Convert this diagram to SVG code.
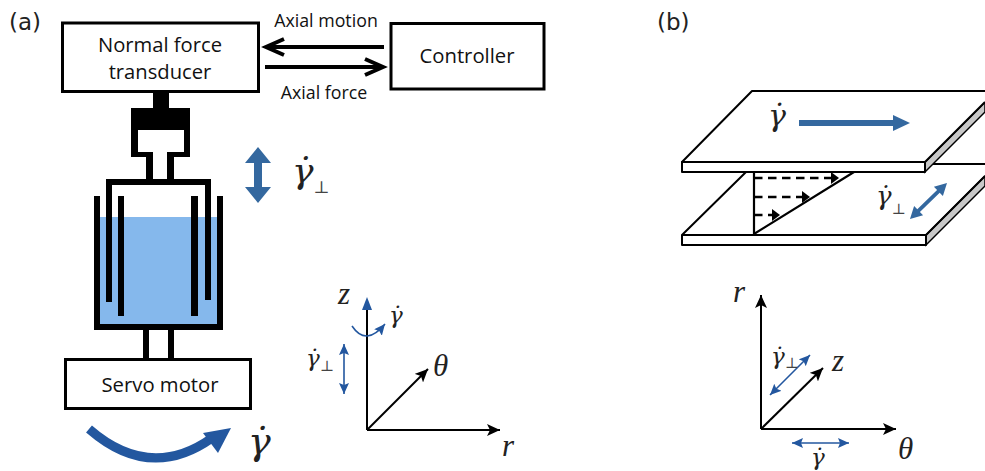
<svg xmlns="http://www.w3.org/2000/svg" width="985" height="471" viewBox="0 0 985 471">
<style>
.lb{font-family:"DejaVu Sans",sans-serif;font-size:23px;fill:#222}
.t{font-family:"Open Sans","Noto Sans",sans-serif;fill:#111;text-anchor:middle}
.m{font-family:"Liberation Serif","DejaVu Serif",serif;font-style:italic;fill:#222}
.g{font-family:"DejaVu Serif",serif;font-style:italic;fill:#222}
.u{font-style:normal;fill:#444}
.box{fill:#fff;stroke:#000;stroke-width:3}
.k{fill:#000}
.ln{stroke:#000;fill:none}
.bl{stroke:#23579f;fill:none;stroke-width:1.6}
.plate{fill:#fff;stroke:#000;stroke-width:2;stroke-linejoin:round}
.side{fill:#c8c8c8;stroke:#000;stroke-width:1.5}
</style>
<defs>
<marker id="ak" markerUnits="userSpaceOnUse" markerWidth="14" markerHeight="12" refX="13" refY="6" orient="auto"><path d="M0 0L13 6L0 12L3 6Z" fill="#000"/></marker>
<marker id="ab" markerUnits="userSpaceOnUse" markerWidth="12" markerHeight="12" refX="11" refY="5" orient="auto-start-reverse"><path d="M0 0L11 5L0 10L2 5Z" fill="#23579f"/></marker>
<marker id="ah" markerUnits="userSpaceOnUse" markerWidth="9" markerHeight="12" refX="1" refY="6" orient="auto"><path d="M0 0L8 6L0 12Z" fill="#000"/></marker>
</defs>
<text class="lb" x="9" y="30">(a)</text>
<text class="lb" x="657" y="30">(b)</text>

<g id="cup">
<rect x="100" y="217" width="117" height="107" fill="#85b8ec"/>
<path class="k" d="M153 92H169V108H190V157H174V179H211V300H205V185H112V302H106V179H146V157H131V108H153ZM138 130V152H153V179H167V152H184V130Z" fill-rule="evenodd"/>
<path class="k" d="M94 196H100V324H217V196H223V330H94ZM118 196H124V316H118ZM191 196H198V316H191ZM143 330H149V358H143ZM168 330H174V358H168Z"/>
</g>
<g id="normal-force-transducer">
<rect class="box" x="62.500" y="23" width="196" height="68.500"/>
<text class="t" x="160" y="52" font-size="20.200">Normal force</text>
<text class="t" x="160" y="79" font-size="20.200">transducer</text>
</g>
<g id="controller">
<rect class="box" x="391" y="23.500" width="153" height="65.500"/>
<text class="t" x="467" y="63" font-size="20.300">Controller</text>
</g>
<g id="servo-motor">
<rect class="box" x="65.500" y="359.500" width="185" height="49"/>
<text class="t" x="160" y="392" font-size="20.300">Servo motor</text>
</g>

<g id="connectors">
<path class="ln" stroke-width="4" d="M384 47H266M284 39L266 47L284 55"/>
<path class="ln" stroke-width="4" d="M265 67H383M365 59L383 67L365 75"/>
<path fill="#34689f" d="M258 147L271 163H262V187H271L258 203L245 187H254V163H245Z"/>
<path fill="none" stroke="#23579f" stroke-width="9" d="M89 429Q150 482 212 438"/>
<path fill="#23579f" d="M231 428L203 433L218 453Z"/>
<path class="ln" stroke-width="2" d="M367 430V309"/>
<path fill="#23579f" d="M367 297L372 310H362Z"/>
<path class="ln" stroke-width="2" marker-end="url(#ak)" d="M367 430H500"/>
<path class="ln" stroke-width="2" marker-end="url(#ak)" d="M367 430L428 369"/>
<path class="bl" marker-start="url(#ab)" marker-end="url(#ab)" d="M344 344V394"/>
<path class="bl" marker-end="url(#ab)" d="M352 326Q366 347 385 324"/>
<path class="ln" stroke-width="2" marker-end="url(#ak)" d="M761 429V295"/>
<path class="ln" stroke-width="2" marker-end="url(#ak)" d="M761 429H896"/>
<path class="ln" stroke-width="2" marker-end="url(#ak)" d="M761 429L823 368"/>
<path class="bl" marker-start="url(#ab)" marker-end="url(#ab)" d="M770 395L810 355"/>
<path class="bl" marker-start="url(#ab)" marker-end="url(#ab)" d="M792 443H849"/>
</g>

<g id="lower-plate">
<path class="side" d="M926 235L985 176V186L926 245Z"/>
<path class="plate" d="M682 235L746 172M932 164H985M985 176L926 235"/>
<rect class="plate" x="682" y="235" width="244" height="10"/>
</g>
<g id="velocity-profile">
<path class="ln" stroke-width="2.200" d="M754 172V234L854 172"/>
<g class="ln" stroke-width="2.500" stroke-dasharray="8.500 5.500">
<path marker-end="url(#ah)" d="M754 178H832"/>
<path marker-end="url(#ah)" d="M754 197H803"/>
<path marker-end="url(#ah)" d="M754 215H773"/>
</g>
</g>
<g id="upper-plate">
<path class="side" d="M925 162L985 102V112L925 172Z"/>
<path class="plate" d="M985 91H752L682 162H925L985 102"/>
<rect class="plate" x="682" y="162" width="243" height="10"/>
<path fill="#34689f" d="M799 120H893V115L910 123L893 131V126H799Z"/>
</g>
<path id="shear-arrow" fill="#34689f" d="M947 183L942.900 196.100L939.700 192.700L919.900 211.900L923.100 215.300L910 219L914.100 205.900L917.300 209.300L937.100 190.100L933.900 186.700Z"/>

<g id="labels">
<text class="g" x="768" y="126" font-size="30">γ̇</text>
<text class="g" x="876" y="205" font-size="26">γ̇<tspan class="u" font-size="15" dy="9">⊥</tspan></text>
<text class="g" x="292" y="183" font-size="36">γ̇<tspan class="u" font-size="17" dy="10">⊥</tspan></text>
<text class="g" x="248" y="454" font-size="38">γ̇</text>
<text class="m" x="338" y="304" font-size="31">z</text>
<text class="m" x="502" y="456" font-size="31">r</text>
<text class="m" x="433" y="376" font-size="31">θ</text>
<text class="g" x="389" y="323" font-size="23">γ̇</text>
<text class="g" x="306" y="366" font-size="23">γ̇<tspan class="u" font-size="15" dy="5">⊥</tspan></text>
<text class="m" x="733" y="302" font-size="31">r</text>
<text class="m" x="898" y="459" font-size="31">θ</text>
<text class="m" x="832" y="371" font-size="31">z</text>
<text class="g" x="771" y="364" font-size="23">γ̇<tspan class="u" font-size="15" dy="4">⊥</tspan></text>
<text class="g" x="811" y="465" font-size="23">γ̇</text>
<text class="t" x="326" y="27" font-size="17.800">Axial motion</text>
<text class="t" x="324" y="99" font-size="17.800">Axial force</text>
</g>
</svg>
